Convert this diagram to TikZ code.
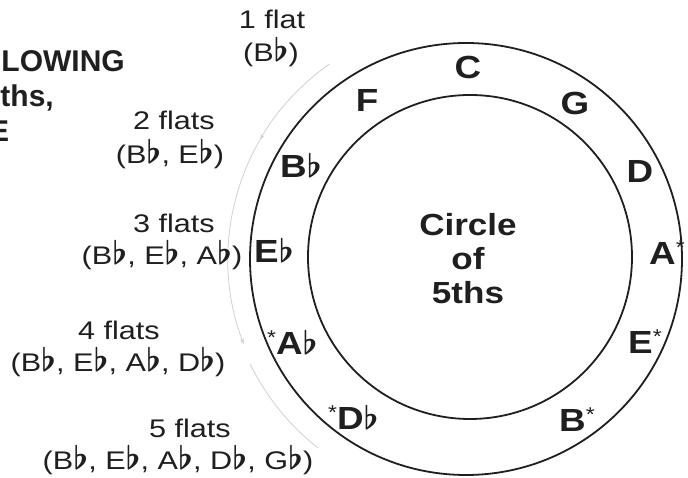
\documentclass[tikz,border=0pt]{standalone}
\usepackage{fontspec}
\usetikzlibrary{arrows.meta}
\setmainfont{Liberation Sans}
\newfontfamily\labelfont[FakeStretch=1.2]{Liberation Sans}
\newfontfamily\notefont[FakeStretch=1.15]{Liberation Sans}
\newcommand\fl{\scalebox{1.35}[1.3]{\boldmath$\flat$}}
\newcommand\sstar{\raisebox{10pt}{\mdseries\fontsize{20}{20}\selectfont *}}
\tikzset{
  lbl/.style={font=\labelfont\fontsize{25.5}{25.5}\selectfont, inner sep=0pt, anchor=base, text=black!88},
  note/.style={font=\notefont\bfseries\fontsize{32}{32}\selectfont, inner sep=0pt, anchor=base, text=black!88},
  cut/.style={font=\bfseries\fontsize{30}{30}\selectfont, inner sep=0pt, text=black!88},
  ring/.style={line width=1.8pt, black!88},
  guide/.style={black!18, line width=0.8pt},
}
\begin{document}
\begin{tikzpicture}[x=1pt,y=1pt]
\useasboundingbox (0,0) rectangle (688,478);
\clip (0,0) rectangle (688,478);

% the two rings
\coordinate (ctr) at (466,219);
\draw[ring] (ctr) circle[radius=216];
\draw[ring] (470,221) circle[radius=162];

% faint direction arc on the flat side
\draw[guide,-{Stealth[length=6pt,width=4pt]}] ([shift={(ctr)}]125:238) arc[start angle=125,end angle=150,radius=238];
\draw[guide,-{Stealth[length=6pt,width=4pt]}] ([shift={(ctr)}]150:238) arc[start angle=150,end angle=201,radius=238];
\draw[guide] ([shift={(ctr)}]206:240) arc[start angle=206,end angle=232,radius=240];

% title in the middle
\node[note, anchor=center, align=center, font=\notefont\bfseries\fontsize{30.5}{34}\selectfont] (title) at (468,219) {Circle\\of\\5ths};

% keys round the ring
\node[note] (kC) at (468,399) {C};
\node[note] (kG) at (575,363) {G};
\node[note] (kD) at (640,295) {D};
\node[note, anchor=base west] (kA) at (649,213) {A\sstar};
\node[note, anchor=base west] (kE) at (628,124) {E\sstar};
\node[note, anchor=base west] (kB) at (559,46) {B\sstar};
\node[note, anchor=base west] (kDb) at (328,48) {\sstar D\fl};
\node[note, anchor=base west] (kAb) at (267,123) {\sstar A\fl};
\node[note] (kEb) at (274,215) {E\fl};
\node[note] (kBb) at (301,300) {B\fl};
\node[note] (kF) at (367,366) {F};

% number of flats
\node[lbl] (n1) at (272,449) {1 flat};
\node[lbl] (l1) at (271,416) {(B\fl)};
\node[lbl] (n2) at (174,348) {2 flats};
\node[lbl] (l2) at (170,314) {(B\fl, E\fl)};
\node[lbl] (n3) at (174,245) {3 flats};
\node[lbl] (l3) at (162,213) {(B\fl, E\fl, A\fl)};
\node[lbl] (n4) at (119,138) {4 flats};
\node[lbl] (l4) at (118,106) {(B\fl, E\fl, A\fl, D\fl)};
\node[lbl] (n5) at (190,40) {5 flats};
\node[lbl] (l5) at (178,8) {(B\fl, E\fl, A\fl, D\fl, G\fl)};

% heading running off the left edge
\node[cut, anchor=base east] (h1) at (125,406) {LOWING};
\node[cut, anchor=base east] (h2) at (54,371) {ths,};
\node[cut, anchor=base west] (h3) at (-11,336) {E};
\end{tikzpicture}
\end{document}
